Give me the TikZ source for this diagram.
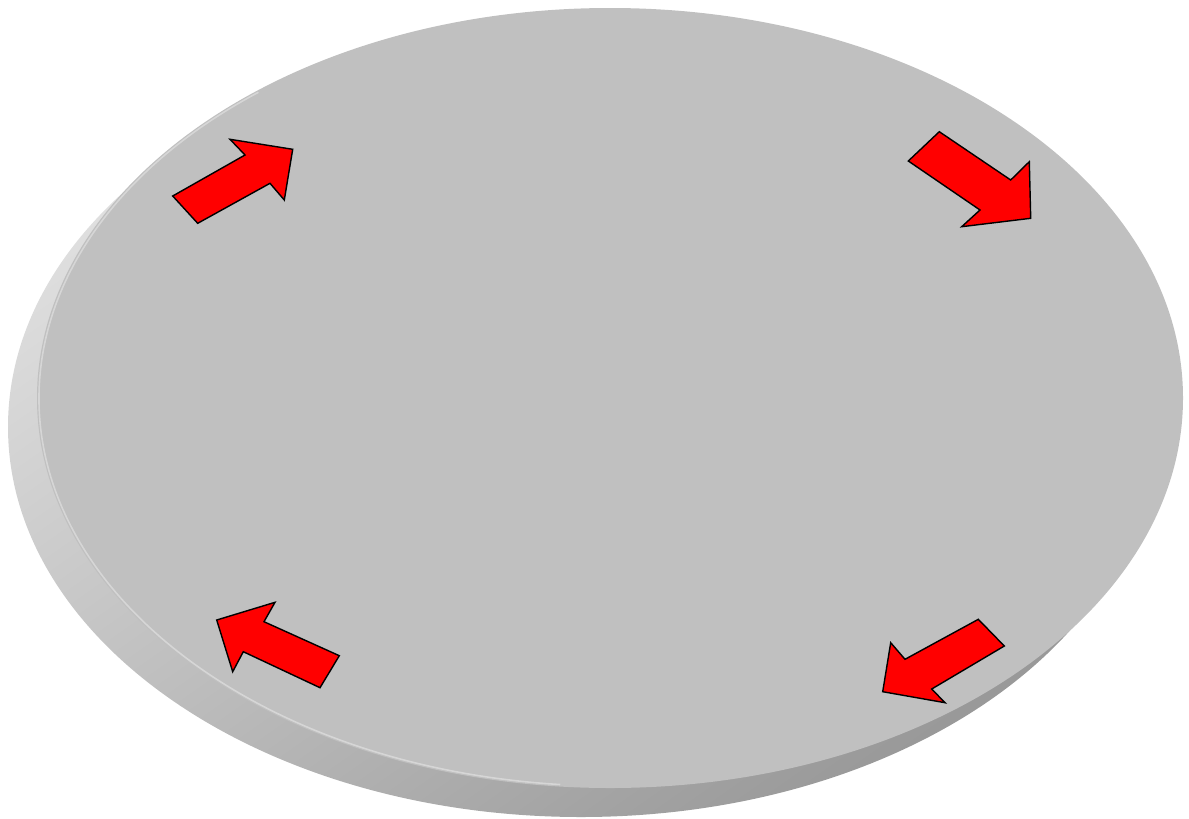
\documentclass[tikz,border=0pt]{standalone}
\usepackage{tikz}
\usepackage{xcolor}
\usetikzlibrary{arrows.meta, positioning}
\definecolor{diskface}{RGB}{192, 192, 192}
\definecolor{diskrim}{RGB}{214, 214, 214}
\definecolor{sidelight}{RGB}{224, 224, 224}
\definecolor{sidedark}{RGB}{152, 152, 152}
\definecolor{myred}{RGB}{255, 0, 0}

\begin{document}
\begin{tikzpicture}[x=0.02cm,y=-0.02cm,
    redarrow/.style={fill=myred,draw=black,line width=0.8pt,line join=miter}]
        \useasboundingbox (0,0) rectangle (1189,818);
        \shade[top color=sidelight,bottom color=sidedark,shading angle=35]
          (581,427) ellipse [x radius=573,y radius=390];
        \fill[diskface] (610,398) ellipse [x radius=573,y radius=390];
        \draw[diskrim,line width=0.9pt] (610,398) ++(95:571 and 388)
          arc[start angle=95,end angle=232,x radius=571,y radius=388];
        \draw[redarrow] (172.7,196)--(197.7,223.3)--(270,183.3)--(284.3,200)
          --(292.7,149.3)--(230,139.3)--(245,155)--cycle;
        \draw[redarrow] (939.3,131.7)--(908.3,161)--(980,210)--(961.7,226.7)
          --(1030.7,218.3)--(1029.3,161.7)--(1010.7,180)--cycle;
        \draw[redarrow] (216.7,620)--(275,602.3)--(264,621.7)--(339.3,655.7)
          --(320,687.7)--(243.3,651.7)--(232.7,671.7)--cycle;
        \draw[redarrow] (978.3,619.3)--(1004.3,646)--(931.7,689)--(945,702.7)
          --(882.7,691.7)--(890.7,642.7)--(905,659.3)--cycle;
      \end{tikzpicture}
\end{document}
